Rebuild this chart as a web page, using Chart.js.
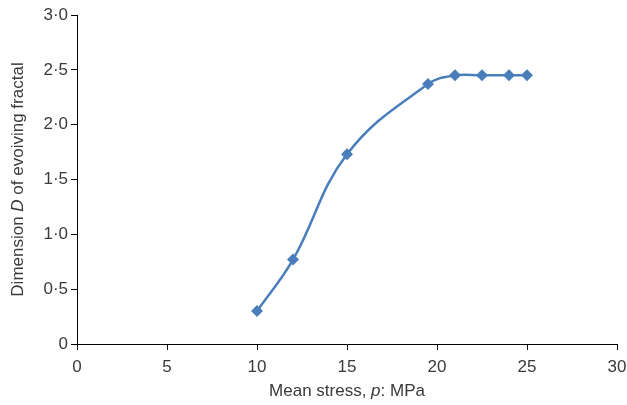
<!DOCTYPE html>
<html>
<head>
<meta charset="utf-8">
<script src="https://cdn.jsdelivr.net/npm/chart.js@4"></script>
<style>
  html, body { margin: 0; padding: 0; background: #fff; }
  #wrap { width: 627px; height: 405px; position: relative; }
</style>
</head>
<body>
<div id="wrap"><canvas id="chart"></canvas></div>
<script>
const stress = [10, 12, 15, 19.5, 21, 22.5, 24, 25];
const dimension = [0.3, 0.77, 1.73, 2.37, 2.45, 2.45, 2.45, 2.45];
const xTickLabels = ["0", "5", "10", "15", "20", "25", "30"];
const yTickLabels = ["0", "0·5", "1·0", "1·5", "2·0", "2·5", "3·0"];

const FONT = "'Liberation Sans', Arial, sans-serif";
const TEXT = "#3a3a3a";
const BLUE = "#4A7EBB";

// draws a string made of [text, italic] runs
function drawRuns(ctx, runs, size) {
  const widths = runs.map(([t, it]) => {
    ctx.font = `${it ? "italic " : ""}${size}px ${FONT}`;
    return ctx.measureText(t).width;
  });
  const total = widths.reduce((a, b) => a + b, 0);
  let x = -total / 2;
  runs.forEach(([t, it], i) => {
    ctx.font = `${it ? "italic " : ""}${size}px ${FONT}`;
    ctx.fillText(t, x, 0);
    x += widths[i];
  });
}

const titles = {
  id: "titles",
  afterDraw(chart) {
    const { ctx, chartArea } = chart;
    ctx.save();
    ctx.fillStyle = TEXT;
    ctx.textAlign = "left";
    ctx.textBaseline = "middle";
    ctx.save();
    ctx.translate((chartArea.left + chartArea.right) / 2, 391);
    drawRuns(ctx, [["Mean stress, ", false], ["p", true], [": MPa", false]], 17);
    ctx.restore();
    ctx.save();
    ctx.translate(18, (chartArea.top + chartArea.bottom) / 2);
    ctx.rotate(-Math.PI / 2);
    drawRuns(ctx, [["Dimension ", false], ["D", true], [" of evoiving fractal", false]], 17);
    ctx.restore();
    ctx.restore();
  },
};

new Chart(document.getElementById("chart"), {
  type: "line",
  data: {
    datasets: [{
      data: stress.map((x, i) => ({ x, y: dimension[i] })),
      borderColor: BLUE,
      backgroundColor: BLUE,
      borderWidth: 2.5,
      tension: 0.4,
      pointStyle: "rectRot",
      pointRadius: 6,
      pointBorderWidth: 0,
    }],
  },
  options: {
    responsive: true,
    maintainAspectRatio: false,
    animation: false,
    layout: { padding: { top: 15, right: 10, left: 0, bottom: 0 } },
    plugins: { legend: { display: false }, tooltip: { enabled: false } },
    scales: {
      x: {
        type: "linear",
        min: 0,
        max: 30,
        ticks: {
          stepSize: 5,
          color: TEXT,
          font: { family: FONT, size: 17 },
          padding: 7,
          maxRotation: 0,
          callback: (v) => xTickLabels[Math.round(v / 5)],
        },
        grid: { drawOnChartArea: false, drawTicks: true, tickLength: 6, color: "#000" },
        border: { display: true, color: "#000", width: 1 },
        afterFit: (s) => {
          s.height = 61;
          s.paddingLeft = 0;
          s.paddingRight = 0;
        },
      },
      y: {
        min: 0,
        max: 3,
        ticks: {
          stepSize: 0.5,
          color: TEXT,
          font: { family: FONT, size: 17 },
          padding: 3,
          callback: (v) => yTickLabels[Math.round(v * 2)],
        },
        grid: { drawOnChartArea: false, drawTicks: true, tickLength: 6, color: "#000" },
        border: { display: true, color: "#000", width: 1 },
        afterFit: (s) => {
          s.width = 77;
          s.paddingTop = 0;
          s.paddingBottom = 0;
        },
      },
    },
  },
  plugins: [titles],
});
</script>
</body>
</html>
